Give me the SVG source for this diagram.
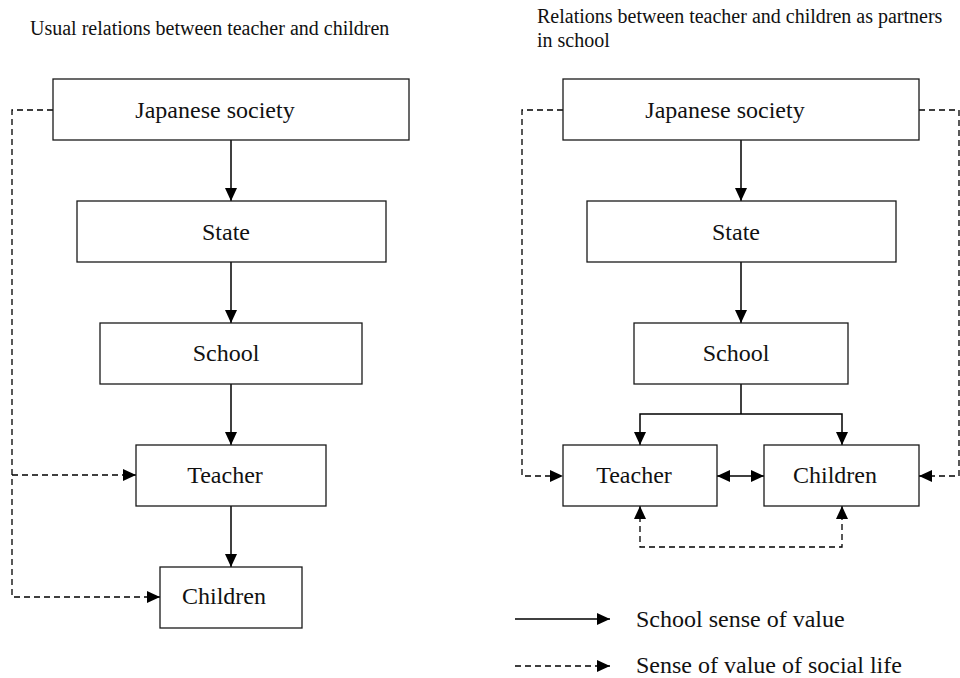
<svg xmlns="http://www.w3.org/2000/svg" width="960" height="678" viewBox="0 0 960 678">
<defs>
<style>
.box{fill:#fff;stroke:#1a1a1a;stroke-width:1.3}
.lbl{font-family:"Liberation Serif","Times New Roman",serif;font-size:24px;fill:#111;text-anchor:middle}
.title{font-family:"Liberation Serif","Times New Roman",serif;font-size:20px;fill:#111}
.leg{font-family:"Liberation Serif","Times New Roman",serif;font-size:24px;fill:#111}
.solid{fill:none;stroke:#000;stroke-width:1.5}
.dash{fill:none;stroke:#000;stroke-width:1.3;stroke-dasharray:6,4}
</style>
<marker id="ah" viewBox="0 0 13 12" refX="13" refY="6" markerWidth="13" markerHeight="12" markerUnits="userSpaceOnUse" orient="auto-start-reverse">
<path d="M0,0 L13,6 L0,12 Z" fill="#000"/>
</marker>
</defs>
<rect width="960" height="678" fill="#fff"/>
<text class="title" x="30" y="35">Usual relations between teacher and children</text>
<text class="title" x="537" y="23">Relations between teacher and children as partners</text>
<text class="title" x="537" y="47">in school</text>
<g id="connectors">
<path class="solid" d="M231,140 V201" marker-end="url(#ah)"/>
<path class="solid" d="M231,262 V323" marker-end="url(#ah)"/>
<path class="solid" d="M231,384 V445" marker-end="url(#ah)"/>
<path class="solid" d="M231,506 V567" marker-end="url(#ah)"/>
<path class="dash" d="M53,110 H12 V597 H160" marker-end="url(#ah)"/>
<path class="dash" d="M12,475 H136" marker-end="url(#ah)"/>
<path class="solid" d="M741,140 V201" marker-end="url(#ah)"/>
<path class="solid" d="M741,262 V323" marker-end="url(#ah)"/>
<path class="solid" d="M741,384 V414"/>
<path class="solid" d="M640,445 V414 H842 V445" marker-start="url(#ah)" marker-end="url(#ah)"/>
<path class="solid" d="M717,476 H764" marker-start="url(#ah)" marker-end="url(#ah)"/>
<path class="dash" d="M640,506 V547 H842 V506" marker-start="url(#ah)" marker-end="url(#ah)"/>
<path class="dash" d="M563,110 H522 V476 H563" marker-end="url(#ah)"/>
<path class="dash" d="M919,110 H959 V476 H919" marker-end="url(#ah)"/>
</g>
<g id="n-js-left"><rect class="box" x="53" y="79" width="356" height="61"/><text class="lbl" x="215" y="118">Japanese society</text></g>
<g id="n-state-left"><rect class="box" x="77" y="201" width="309" height="61"/><text class="lbl" x="226" y="240">State</text></g>
<g id="n-school-left"><rect class="box" x="100" y="323" width="262" height="61"/><text class="lbl" x="226" y="361">School</text></g>
<g id="n-teacher-left"><rect class="box" x="136" y="445" width="190" height="61"/><text class="lbl" x="225" y="483">Teacher</text></g>
<g id="n-children-left"><rect class="box" x="160" y="567" width="142" height="61"/><text class="lbl" x="224" y="604">Children</text></g>
<g id="n-js-right"><rect class="box" x="563" y="79" width="356" height="61"/><text class="lbl" x="725" y="118">Japanese society</text></g>
<g id="n-state-right"><rect class="box" x="587" y="201" width="309" height="61"/><text class="lbl" x="736" y="240">State</text></g>
<g id="n-school-right"><rect class="box" x="634" y="323" width="214" height="61"/><text class="lbl" x="736" y="361">School</text></g>
<g id="n-teacher-right"><rect class="box" x="563" y="445" width="154" height="61"/><text class="lbl" x="634" y="483">Teacher</text></g>
<g id="n-children-right"><rect class="box" x="764" y="445" width="155" height="61"/><text class="lbl" x="835" y="483">Children</text></g>
<g id="legend">
<path class="solid" d="M515,619 H610" marker-end="url(#ah)"/>
<text class="leg" x="636" y="627">School sense of value</text>
<path class="dash" d="M515,666 H610" marker-end="url(#ah)"/>
<text class="leg" x="636" y="673">Sense of value of social life</text>
</g>
</svg>
